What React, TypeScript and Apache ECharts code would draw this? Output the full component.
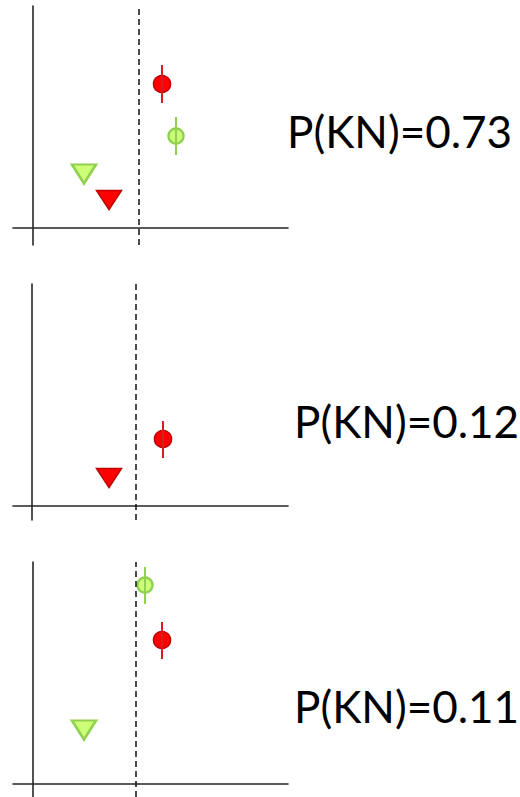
import React, { useEffect, useRef } from "react";
import * as echarts from "echarts";

// Per panel (top to bottom)
const panelLabels = ["P(KN)=0.73", "P(KN)=0.12", "P(KN)=0.11"];
const thresholds = [10.6, 10.4, 10.3];
// [x, y, errLow, errHigh]
const redCircles: (number[] | null)[] = [
  [12.9, 14.4, 12.5, 16.3],
  [13.1, 6.7, 4.8, 8.5],
  [12.9, 14.4, 12.5, 16.2],
];
const greenCircles: (number[] | null)[] = [
  [14.3, 9.2, 7.3, 11.1],
  null,
  [11.2, 19.9, 18.0, 21.7],
];
// [x, y]
const greenTriangles: (number[] | null)[] = [[5.1, 5.4], null, [5.1, 5.4]];
const redTriangles: (number[] | null)[] = [[7.6, 2.8], [7.7, 2.8], null];

const xMins = [-2.0, -1.9, -2.0];
const xMaxs = [25.5, 25.6, 25.5];
const yMins = [-1.7, -1.4, -1.3];
const yMaxs = [22.2, 22.2, 22.2];

const RED_FILL = "#ff0000";
const RED_STROKE = "#c00000";
const GREEN_FILL = "#ccff77";
const GREEN_STROKE = "#92d050";

export default function App() {
  const ref = useRef<HTMLDivElement>(null);
  useEffect(() => {
    if (!ref.current) return;
    const chart = echarts.init(ref.current, undefined, { renderer: "svg" });

    const gridPos = [
      { left: 13, top: 6, width: 275, height: 239 },
      { left: 13, top: 284, width: 275, height: 236 },
      { left: 13, top: 562, width: 275, height: 235 },
    ];
    const textY = [131, 421, 706];
    const textX = [287, 294, 294];

    const axisLine = {
      show: true,
      onZero: true,
      lineStyle: { color: "#262626", width: 1.6 },
    };

    const grid = gridPos.map((g) => ({ ...g, containLabel: false }));
    const xAxis = gridPos.map((_, i) => ({
      type: "value",
      gridIndex: i,
      min: xMins[i],
      max: xMaxs[i],
      axisLine,
      axisTick: { show: false },
      axisLabel: { show: false },
      splitLine: { show: false },
    }));
    const yAxis = gridPos.map((_, i) => ({
      type: "value",
      gridIndex: i,
      min: yMins[i],
      max: yMaxs[i],
      axisLine,
      axisTick: { show: false },
      axisLabel: { show: false },
      splitLine: { show: false },
    }));

    const errorBar = (i: number, d: number[], color: string) => ({
      type: "custom",
      xAxisIndex: i,
      yAxisIndex: i,
      z: 5,
      data: [[d[0], d[2], d[3]]],
      encode: { x: 0, y: [1, 2] },
      renderItem: (_p: any, api: any) => {
        const x = api.value(0);
        const a = api.coord([x, api.value(1)]);
        const b = api.coord([x, api.value(2)]);
        return {
          type: "line",
          shape: { x1: a[0], y1: a[1], x2: b[0], y2: b[1] },
          style: { stroke: color, lineWidth: 2 },
        };
      },
    });

    const series: any[] = [];
    for (let i = 0; i < 3; i++) {
      series.push({
        type: "scatter",
        xAxisIndex: i,
        yAxisIndex: i,
        data: [],
        silent: true,
        markLine: {
          silent: true,
          symbol: ["none", "none"],
          label: { show: false },
          lineStyle: { type: [6, 4], color: "#111", width: 1.5 },
          data: [{ xAxis: thresholds[i] }],
        },
      });
      const rc = redCircles[i];
      if (rc) {
        series.push({
          type: "scatter",
          xAxisIndex: i,
          yAxisIndex: i,
          symbol: "circle",
          symbolSize: 17,
          z: 3,
          itemStyle: { color: RED_FILL, borderColor: RED_STROKE, borderWidth: 1.5, opacity: 1 },
          data: [[rc[0], rc[1]]],
        });
        series.push(errorBar(i, rc, "#d02020"));
      }
      const gc = greenCircles[i];
      if (gc) {
        series.push({
          type: "scatter",
          xAxisIndex: i,
          yAxisIndex: i,
          symbol: "circle",
          symbolSize: 15,
          z: 3,
          itemStyle: { color: GREEN_FILL, borderColor: GREEN_STROKE, borderWidth: 2.5, opacity: 1 },
          data: [[gc[0], gc[1]]],
        });
        series.push(errorBar(i, gc, GREEN_STROKE));
      }
      const gt = greenTriangles[i];
      if (gt) {
        series.push({
          type: "scatter",
          xAxisIndex: i,
          yAxisIndex: i,
          symbol: "triangle",
          symbolRotate: 180,
          symbolSize: [24, 19],
          z: 3,
          itemStyle: { color: GREEN_FILL, borderColor: GREEN_STROKE, borderWidth: 2.5, opacity: 1 },
          data: [[gt[0], gt[1]]],
        });
      }
      const rt = redTriangles[i];
      if (rt) {
        series.push({
          type: "scatter",
          xAxisIndex: i,
          yAxisIndex: i,
          symbol: "triangle",
          symbolRotate: 180,
          symbolSize: [25, 19],
          z: 3,
          itemStyle: { color: RED_FILL, borderColor: RED_STROKE, borderWidth: 1.5, opacity: 1 },
          data: [[rt[0], rt[1]]],
        });
      }
    }

    const graphic = panelLabels.map((t, i) => ({
      type: "text",
      x: textX[i],
      y: textY[i],
      style: {
        text: t,
        fontFamily: "Lato",
        fontSize: 44,
        fill: "#000",
        align: "left",
        verticalAlign: "middle",
      },
    }));

    chart.setOption({
      animation: false,
      grid,
      xAxis,
      yAxis,
      series,
      graphic,
    });
    return () => chart.dispose();
  }, []);

  return (
    <div
      ref={ref}
      style={{ position: "absolute", left: 0, top: 0, width: 520, height: 797, background: "#fff" }}
    />
  );
}
